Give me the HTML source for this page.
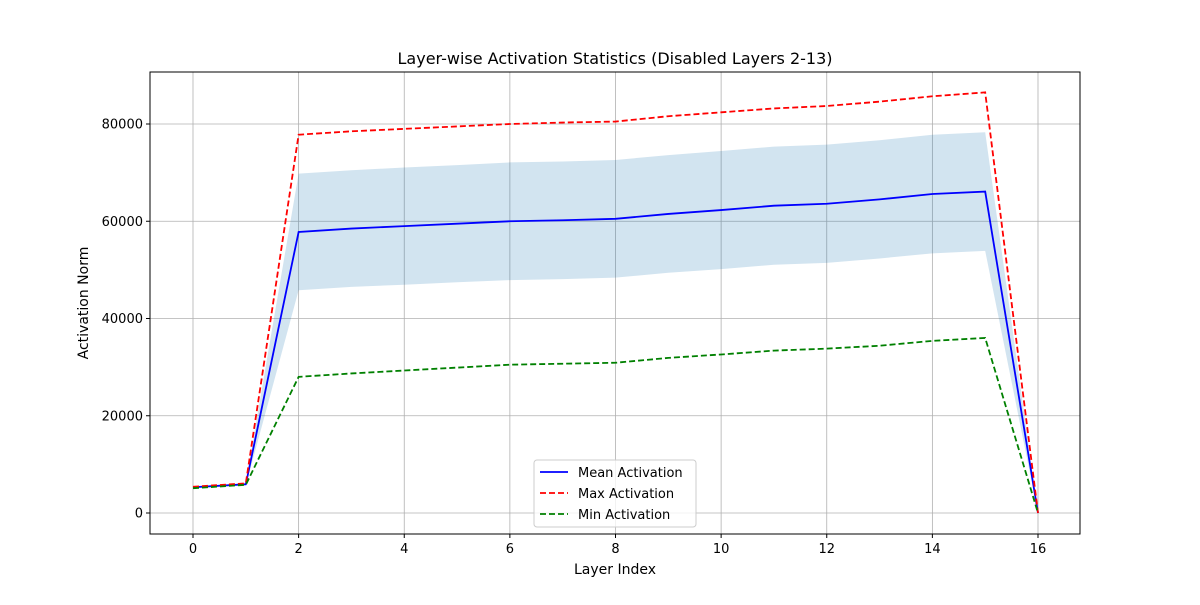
<!DOCTYPE html>
<html><head><meta charset="utf-8"><style>
body{margin:0;background:#fff;font-family:"Liberation Sans","DejaVu Sans",sans-serif;}
svg text{font-family:"DejaVu Sans","Liberation Sans",sans-serif;}
</style></head><body>
<svg id="chart" width="1200" height="600" xmlns="http://www.w3.org/2000/svg"></svg>
<script>
const layers=[0,1,2,3,4,5,6,7,8,9,10,11,12,13,14,15,16];
const meanVals=[5300,5900,57800,58500,59000,59500,60000,60200,60500,61500,62300,63200,63600,64500,65600,66100,0];
const maxVals=[5400,6100,77800,78500,79000,79500,80000,80300,80500,81600,82400,83200,83700,84600,85700,86500,0];
const minVals=[5100,5800,28000,28700,29300,29900,30500,30700,30900,31900,32600,33400,33800,34400,35400,36000,0];
const stdVals=[200,250,12000,12000,12050,12050,12100,12100,12100,12100,12150,12150,12150,12150,12200,12200,0];
const xTicks=[0,2,4,6,8,10,12,14,16];
const yTicks=[0,20000,40000,60000,80000];
const L=150,R=1080,T=72,B=534;
const X=v=>193+(v-0)*(1038-193)/16;
const Y=v=>513-v*(513-124)/80000;
const svg=document.getElementById('chart');
const NS='http://www.w3.org/2000/svg';
function mk(tag,attrs,name,parent){const e=document.createElementNS(NS,tag);for(const k in attrs)e.setAttribute(k,attrs[k]);


(parent||svg).appendChild(e);return e;}
// grid
xTicks.forEach(t=>{mk('line',{x1:X(t),x2:X(t),y1:T,y2:B,stroke:'#b0b0b0','stroke-width':0.8},'x-grid-line');
mk('line',{x1:X(t),x2:X(t),y1:B,y2:B+4,stroke:'#000'},'x-tick');
const tx=mk('text',{x:X(t),y:B+19,'text-anchor':'middle','font-size':13},'x-tick-label');tx.textContent=t;});
yTicks.forEach(t=>{mk('line',{x1:L,x2:R,y1:Y(t),y2:Y(t),stroke:'#b0b0b0','stroke-width':0.8},'y-grid-line');
mk('line',{x1:L-4,x2:L,y1:Y(t),y2:Y(t),stroke:'#000'},'y-tick');
const tx=mk('text',{x:L-7,y:Y(t)+4.5,'text-anchor':'end','font-size':13},'y-tick-label');tx.textContent=t;});
// band
let up=layers.map((l,i)=>X(l)+','+Y(meanVals[i]+stdVals[i]));
let lo=layers.map((l,i)=>X(l)+','+Y(meanVals[i]-stdVals[i])).reverse();
mk('polygon',{points:up.concat(lo).join(' '),fill:'#1f77b4','fill-opacity':0.2},'std-band');
function line(vals,color,dash,name){mk('polyline',{points:layers.map((l,i)=>X(l)+','+Y(vals[i])).join(' '),fill:'none',stroke:color,'stroke-width':1.8,'stroke-dasharray':dash||''},name);}
line(meanVals,'#0000ff',null,'mean-line');
line(maxVals,'#ff0000','6,3','max-line');
line(minVals,'#008000','6,3','min-line');
mk('rect',{x:L,y:T,width:R-L,height:B-T,fill:'none',stroke:'#000','stroke-width':1},'plot-frame');
let t=mk('text',{x:615,y:64,'text-anchor':'middle','font-size':16},'chart-title');t.textContent='Layer-wise Activation Statistics (Disabled Layers 2-13)';
t=mk('text',{x:615,y:574,'text-anchor':'middle','font-size':14},'x-axis-title');t.textContent='Layer Index';
t=mk('text',{x:88,y:303,'text-anchor':'middle','font-size':14,transform:'rotate(-90 88 303)'},'y-axis-title');t.textContent='Activation Norm';
// legend
const g=mk('g',{},'legend');
mk('rect',{x:534,y:460,width:162,height:67,rx:3,fill:'#fff','fill-opacity':0.8,stroke:'#ccc'},'legend-box',g);
[['Mean Activation','#0000ff',''],['Max Activation','#ff0000','6,3'],['Min Activation','#008000','6,3']].forEach((e,i)=>{
const yy=472+i*21;
mk('line',{x1:540,x2:568,y1:yy,y2:yy,stroke:e[1],'stroke-width':1.8,'stroke-dasharray':e[2]},'legend-swatch',g);
const tx=mk('text',{x:578,y:yy+5,'font-size':13},'legend-entry',g);tx.textContent=e[0];});
</script>
</body></html>
